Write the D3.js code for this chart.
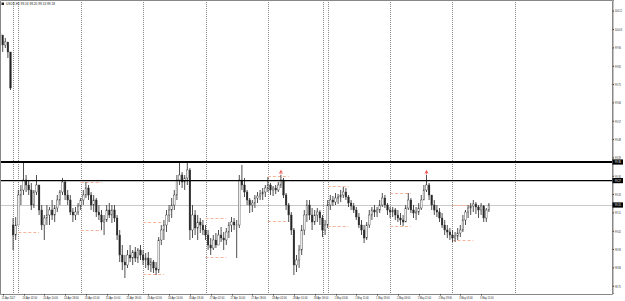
<!DOCTYPE html>
<html>
<head>
<meta charset="utf-8">
<script src="https://cdn.jsdelivr.net/npm/d3@7"></script>
<style>
  body { margin: 0; background: #fff; }
  svg { display: block; font-family: "Liberation Sans Narrow", "Liberation Sans", Arial, sans-serif; }
</style>
</head>
<body>
<svg id="chart" width="625" height="301"></svg>
<script>
var W = 625, H = 301
var plot = { left: 0, right: 612, top: 0, bottom: 294 }

// hourly bars, bar 0 = 21 Apr 16:00 (ticks)
var highs = [100.025,99.975,99.985,99.950,99.915,99.085,99.090,99.225,99.250,99.365,99.300,99.275,99.260,99.225,99.300,99.250,99.150,99.100,99.150,99.140,
99.175,99.150,99.200,99.225,99.285,99.275,99.225,99.200,99.135,99.140,99.160,99.185,99.225,99.265,99.250,99.215,99.200,99.185,99.150,99.125,
99.100,99.150,99.160,99.150,99.150,99.100,99.025,98.950,98.900,98.925,98.950,98.925,98.940,98.935,98.950,98.925,98.910,98.915,98.885,98.875,
98.865,98.990,99.050,99.075,99.125,99.150,99.185,99.225,99.300,99.360,99.315,99.300,99.360,99.335,99.150,99.125,99.100,99.085,99.075,99.050,
99.025,98.985,99.000,99.010,99.025,99.040,99.015,99.035,99.065,99.090,99.085,99.075,99.300,99.350,99.285,99.225,99.185,99.175,99.200,99.215,
99.225,99.235,99.250,99.290,99.260,99.245,99.250,99.265,99.300,99.285,99.210,99.160,99.115,99.035,98.900,98.950,99.050,99.125,99.175,99.175,
99.135,99.125,99.135,99.125,99.100,99.075,99.175,99.200,99.195,99.210,99.205,99.225,99.240,99.235,99.200,99.175,99.160,99.140,99.110,99.075,
99.050,99.065,99.125,99.140,99.150,99.140,99.175,99.210,99.200,99.160,99.140,99.140,99.135,99.125,99.110,99.100,99.150,99.210,99.185,99.150,
99.140,99.160,99.200,99.250,99.300,99.260,99.200,99.175,99.150,99.135,99.110,99.075,99.050,99.035,99.025,99.015,99.035,99.050,99.100,99.125,
99.150,99.160,99.175,99.165,99.150,99.160,99.150,99.135,99.160]
var lows = [99.965,99.915,99.935,99.885,99.725,98.925,98.975,99.100,99.150,99.200,99.215,99.200,99.125,99.135,99.200,99.100,99.025,98.975,99.050,99.050,
99.075,99.065,99.115,99.150,99.200,99.175,99.150,99.100,99.065,99.075,99.100,99.125,99.150,99.185,99.175,99.125,99.115,99.090,99.075,99.025,
99.000,99.065,99.085,99.060,99.065,98.975,98.865,98.825,98.785,98.835,98.865,98.850,98.865,98.860,98.875,98.850,98.835,98.825,98.815,98.810,
98.800,98.810,98.950,98.975,99.015,99.065,99.085,99.125,99.175,99.250,99.235,99.225,99.250,98.975,98.985,99.000,98.975,99.010,99.000,98.975,
98.925,98.900,98.925,98.935,98.950,98.965,98.925,98.950,98.985,99.015,99.025,98.885,99.035,99.225,99.190,99.150,99.110,99.115,99.135,99.160,
99.175,99.175,99.190,99.215,99.200,99.195,99.205,99.215,99.235,99.185,99.125,99.065,99.000,98.800,98.815,98.835,98.900,99.000,99.065,99.075,
99.025,99.050,99.065,99.050,98.990,99.000,99.035,99.125,99.145,99.150,99.155,99.165,99.185,99.175,99.140,99.125,99.110,99.075,99.035,99.000,
98.960,98.975,99.035,99.075,99.090,99.090,99.110,99.140,99.135,99.100,99.085,99.090,99.075,99.065,99.050,99.045,99.065,99.125,99.110,99.085,
99.075,99.100,99.125,99.175,99.215,99.175,99.125,99.100,99.090,99.065,99.035,99.000,98.985,98.975,98.965,98.965,98.975,98.990,99.015,99.050,
99.085,99.100,99.115,99.105,99.085,99.100,99.065,99.065,99.115]
var closes = [100.000,99.950,99.965,99.915,99.735,99.000,99.050,99.200,99.225,99.275,99.250,99.225,99.150,99.215,99.250,99.125,99.050,99.085,99.100,99.125,
99.100,99.135,99.175,99.215,99.265,99.200,99.175,99.115,99.100,99.115,99.145,99.175,99.200,99.235,99.200,99.150,99.175,99.115,99.100,99.065,
99.075,99.125,99.100,99.125,99.085,99.000,98.900,98.865,98.850,98.900,98.885,98.915,98.885,98.925,98.900,98.875,98.885,98.850,98.865,98.835,
98.825,98.975,99.025,99.050,99.100,99.125,99.150,99.200,99.275,99.300,99.265,99.285,99.325,99.025,99.100,99.035,99.065,99.050,99.025,99.000,
98.950,98.935,98.975,98.950,99.000,98.985,98.975,99.015,99.050,99.065,99.050,99.050,99.275,99.250,99.215,99.175,99.150,99.160,99.185,99.195,
99.205,99.215,99.235,99.250,99.225,99.235,99.225,99.250,99.275,99.200,99.150,99.100,99.025,98.850,98.875,98.925,99.025,99.100,99.150,99.100,
99.065,99.100,99.115,99.085,99.025,99.050,99.150,99.175,99.165,99.185,99.190,99.200,99.215,99.190,99.160,99.145,99.125,99.090,99.050,99.025,
98.985,99.050,99.100,99.125,99.115,99.125,99.150,99.185,99.150,99.125,99.115,99.125,99.100,99.085,99.075,99.065,99.135,99.175,99.125,99.110,
99.115,99.135,99.175,99.225,99.250,99.200,99.150,99.125,99.115,99.085,99.050,99.025,99.015,99.000,98.985,98.995,99.010,99.025,99.075,99.115,
99.135,99.145,99.155,99.140,99.125,99.145,99.085,99.125,99.150]
var firstOpen = 100.010
var gapBars = [5]
var gapOpens = [99.050]

// price axis
var priceTicks = [100.122,100.030,99.938,99.846,99.755,99.663,99.571,99.480,99.388,99.296,99.205,99.113,99.021,98.930,98.838,98.746]
var hLines = [99.365, 99.272]
var bidPrice = 99.150

// time axis: label every 8 bars
var timeBars = [1,9,17,25,33,41,49,57,65,73,81,89,97,105,113,121,129,137,145,153,161,169,177,185]
var timeLabels = ["21 Apr 2017","24 Apr 02:00","24 Apr 10:00","24 Apr 18:00","25 Apr 02:00","25 Apr 10:00","25 Apr 18:00",
  "26 Apr 02:00","26 Apr 10:00","26 Apr 18:00","27 Apr 02:00","27 Apr 10:00","27 Apr 18:00","28 Apr 02:00","28 Apr 10:00",
  "28 Apr 18:00","1 May 03:00","1 May 11:00","1 May 19:00","2 May 03:00","2 May 11:00","2 May 19:00","3 May 03:00","3 May 11:00"]

// period separators (bar index of day start)
var separators = [5,7,31,55,79,103,124,126,150,174,198]

// previous-day range dashes: [start bar, price]
var dayLevelBars = [7,31,31,55,55,79,79,103,103,126,126,150,150,174,174]
var dayLevels = [99.015,99.265,99.025,99.065,98.805,99.085,98.890,99.295,99.070,99.245,99.045,99.210,99.045,99.150,98.975]

// small arrow marks
var markBars = [108, 164]
var markPrices = [99.300, 99.300]

var svg = d3.select("#chart")

var x = d3.scaleLinear().domain([0, 235]).range([0.1, 0.1 + 2.6 * 235])
var y = d3.scaleLinear().domain([98.710, 100.175]).range([293, 0])

// separators
svg.append("g").selectAll("line")
  .data(separators)
  .join("line")
  .attr("x1", d => Math.round(x(d)) + 0.5)
  .attr("x2", d => Math.round(x(d)) + 0.5)
  .attr("y1", plot.top)
  .attr("y2", plot.bottom)
  .attr("stroke", "#888")
  .attr("stroke-width", 1)
  .attr("stroke-dasharray", "1,1")

// bid line
svg.append("line")
  .attr("x1", plot.left).attr("x2", plot.right)
  .attr("y1", Math.round(y(bidPrice)) + 0.5).attr("y2", Math.round(y(bidPrice)) + 0.5)
  .attr("stroke", "#c8c8c8").attr("stroke-width", 1)

// day level dashes
svg.append("g").selectAll("line")
  .data(dayLevels)
  .join("line")
  .attr("x1", (d, i) => x(dayLevelBars[i]))
  .attr("x2", (d, i) => x(dayLevelBars[i] + 8))
  .attr("y1", d => Math.round(y(d)) + 0.5)
  .attr("y2", d => Math.round(y(d)) + 0.5)
  .attr("stroke", "#f6b59a")
  .attr("stroke-width", 1)
  .attr("stroke-dasharray", "3,2")

// bars
var bars = highs.map((h, i) => {
  var g = gapBars.indexOf(i)
  var o = i == 0 ? firstOpen : (g >= 0 ? gapOpens[g] : closes[i - 1])
  return { i: i, o: o, h: h, l: lows[i], c: closes[i] }
})

var barG = svg.append("g")
barG.selectAll("line")
  .data(bars)
  .join("line")
  .attr("x1", d => x(d.i))
  .attr("x2", d => x(d.i))
  .attr("y1", d => y(d.h))
  .attr("y2", d => y(d.l))
  .attr("stroke", "#3c3c3c")
  .attr("stroke-width", 0.9)

barG.selectAll("rect")
  .data(bars)
  .join("rect")
  .attr("x", d => x(d.i) - 0.8)
  .attr("width", 1.6)
  .attr("y", d => y(Math.max(d.o, d.c)))
  .attr("height", d => Math.max(0.5, Math.abs(y(d.o) - y(d.c))))
  .attr("fill", d => d.c >= d.o ? "#fff" : "#222")
  .attr("stroke", "#333")
  .attr("stroke-width", 0.4)

// horizontal levels
svg.append("g").selectAll("line")
  .data(hLines)
  .join("line")
  .attr("x1", plot.left).attr("x2", plot.right)
  .attr("y1", d => y(d)).attr("y2", d => y(d))
  .attr("stroke", "#000")
  .attr("stroke-width", (d, i) => i == 0 ? 1.8 : 1.4)

// arrow marks
svg.append("g").selectAll("path")
  .data(markPrices)
  .join("path")
  .attr("transform", (d, i) => "translate(" + x(markBars[i]) + "," + (y(d) - 3) + ")")
  .attr("d", "M-1.5,1.5 L0,-1.5 L1.5,1.5 M0,-1 L0,2.5")
  .attr("fill", "none")
  .attr("stroke", "#e8413c")
  .attr("stroke-width", 0.8)

// frame
svg.append("path")
  .attr("d", "M0.5,0.5 H" + (plot.right + 0.5) + " V" + (plot.bottom + 0.5) + " H0.5 Z")
  .attr("fill", "none")
  .attr("stroke", "#888")
  .attr("stroke-width", 1)

// right price axis
var fmt = d3.format(".2f")
var yAxis = svg.append("g")
  .attr("transform", "translate(" + (plot.right + 0.5) + ",0)")
  .call(d3.axisRight(y).tickValues(priceTicks).tickSize(1.5).tickPadding(0.8).tickFormat(fmt))
yAxis.select(".domain").attr("stroke", "#888")
yAxis.selectAll("line").attr("stroke", "#444")
yAxis.selectAll("text")
  .attr("font-size", "3.8px").attr("fill", "#222")
  .attr("textLength", d => fmt(d).length * 1.2)
  .attr("lengthAdjust", "spacingAndGlyphs")

// highlighted price labels
var tags = hLines.concat([bidPrice])
var tagG = svg.append("g").selectAll("g")
  .data(tags)
  .join("g")
  .attr("transform", d => "translate(" + (plot.right + 0.5) + "," + y(d) + ")")
tagG.append("rect")
  .attr("x", 0).attr("y", -2.6).attr("width", 10.5).attr("height", 5.2)
  .attr("fill", "#000")
tagG.append("text")
  .attr("x", 2.3).attr("dy", "0.35em")
  .attr("font-size", "3.8px").attr("fill", "#fff")
  .attr("textLength", d => fmt(d).length * 1.2)
  .attr("lengthAdjust", "spacingAndGlyphs")
  .text(d => fmt(d))

// time axis labels
svg.append("g").selectAll("line")
  .data(timeBars)
  .join("line")
  .attr("x1", d => Math.round(x(d)) + 0.5).attr("x2", d => Math.round(x(d)) + 0.5)
  .attr("y1", plot.bottom).attr("y2", plot.bottom + 1.5)
  .attr("stroke", "#444")
svg.append("g").selectAll("text")
  .data(timeLabels)
  .join("text")
  .attr("x", (d, i) => x(timeBars[i]) - 1)
  .attr("y", 299)
  .attr("font-size", "3.9px")
  .attr("fill", "#222")
  .attr("textLength", d => d.length * 1.22)
  .attr("lengthAdjust", "spacingAndGlyphs")
  .text(d => d)

// title
svg.append("rect").attr("x", 1.5).attr("y", 2.5).attr("width", 2.5).attr("height", 2.5).attr("fill", "#222")
svg.append("text")
  .attr("x", 6).attr("y", 5.3)
  .attr("font-size", "4.2px")
  .attr("fill", "#222")
  .attr("textLength", 49)
  .attr("lengthAdjust", "spacingAndGlyphs")
  .text("USDX,H1  99.16 99.20 99.15 99.18")
</script>
</body>
</html>
